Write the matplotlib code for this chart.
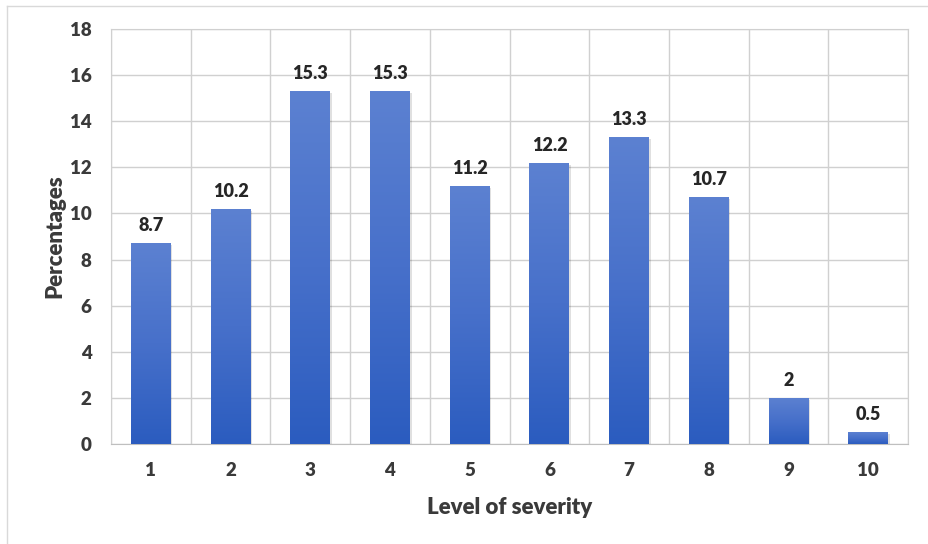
import matplotlib.pyplot as plt
import numpy as np
from matplotlib.patches import Rectangle
from matplotlib.lines import Line2D

plt.rcParams["font.family"] = ["Lato", "DejaVu Sans"]

levels = ["1", "2", "3", "4", "5", "6", "7", "8", "9", "10"]
percentages = [8.7, 10.2, 15.3, 15.3, 11.2, 12.2, 13.3, 10.7, 2, 0.5]
labels = ["8.7", "10.2", "15.3", "15.3", "11.2", "12.2", "13.3", "10.7", "2", "0.5"]

fig = plt.figure(figsize=(9.29, 5.44), dpi=100)
ax = fig.add_axes([0.1195, 0.1838, 0.858, 0.7629])

# chart border (top and left edges)
fig.lines.append(Line2D([0.0075, 1.0], [0.989, 0.989], transform=fig.transFigure,
                        color="#d9d9d9", linewidth=1))
fig.lines.append(Line2D([0.0075, 0.0075], [0.0, 0.989], transform=fig.transFigure,
                        color="#d9d9d9", linewidth=1))

x = np.arange(len(levels))
width = 0.50
grad = np.linspace(0, 1, 256).reshape(-1, 1)
cmap = plt.matplotlib.colors.LinearSegmentedColormap.from_list(
    "barfill", ["#2b5cbf", "#4770ca", "#5c81d1"])

for xi, val, lab in zip(x, percentages, labels):
    # soft shadow under each bar
    ax.add_patch(Rectangle((xi - width / 2 + 0.02, -0.08), width, val,
                           facecolor="#000000", alpha=0.12, edgecolor="none", zorder=2))
    bar = ax.bar(xi, val, width=width, color="none", edgecolor="none", zorder=3)[0]
    im = ax.imshow(grad, cmap=cmap, origin="lower", aspect="auto",
                   extent=(xi - width / 2, xi + width / 2, 0, val), zorder=3)
    im.set_clip_path(bar)
    ax.text(xi, val + 0.4, lab, ha="center", va="bottom", fontsize=13,
            fontweight="heavy", color="#262626", zorder=4)

ax.set_xlim(-0.5, len(levels) - 0.5)
ax.set_ylim(0, 18)
ax.set_yticks(np.arange(0, 19, 2))
ax.set_xticks(x)
ax.set_xticklabels(levels)
ax.set_xticks(np.arange(-0.5, len(levels), 1), minor=True)

ax.grid(axis="y", color="#d0d0d0", linewidth=1, zorder=0)
ax.grid(axis="x", which="minor", color="#d0d0d0", linewidth=1, zorder=0)
ax.set_axisbelow(True)
for side in ["left", "right", "top"]:
    ax.spines[side].set_color("#d0d0d0")
ax.spines["bottom"].set_color("#bfbfbf")
ax.tick_params(which="both", length=0)
ax.tick_params(axis="y", pad=14)
ax.tick_params(axis="x", pad=13)
for t in ax.get_xticklabels() + ax.get_yticklabels():
    t.set_fontsize(13.5)
    t.set_fontweight("heavy")
    t.set_color("#3a3a3a")

ax.set_xlabel("Level of severity", fontsize=16, fontweight="heavy", color="#3a3a3a", labelpad=13)
ax.set_ylabel("Percentages", fontsize=16, fontweight="heavy", color="#3a3a3a", labelpad=3)

fig.savefig("out.png", dpi=100)
